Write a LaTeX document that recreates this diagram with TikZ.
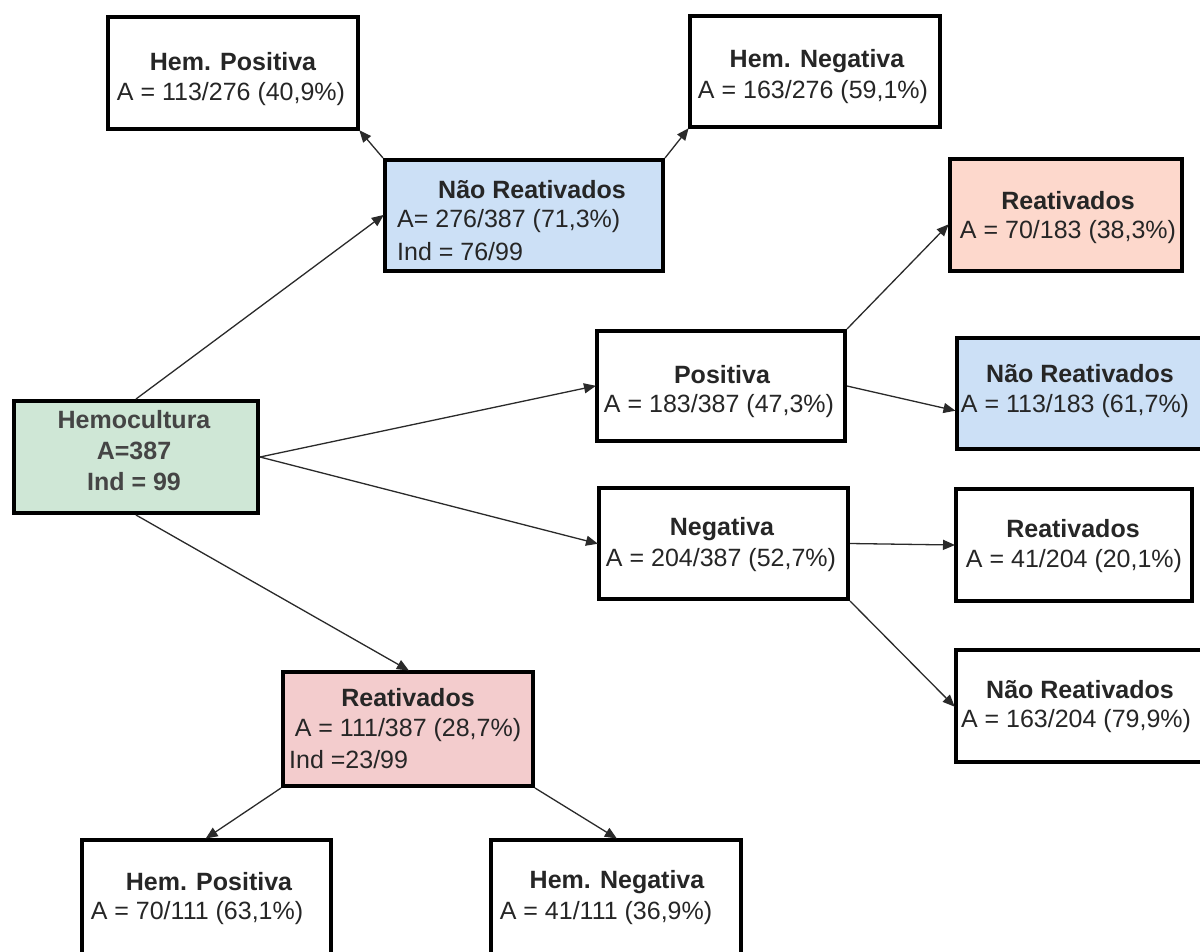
\documentclass[tikz,border=0pt]{standalone}
\usepackage{fontspec}
\setmainfont{Liberation Sans}
\usetikzlibrary{arrows.meta,calc}
\definecolor{txt}{HTML}{262626}
\definecolor{hemotxt}{HTML}{454545}
\definecolor{greenfill}{HTML}{CFE7D6}
\definecolor{bluefill}{HTML}{CCE0F6}
\definecolor{salmonfill}{HTML}{FDD8CC}
\definecolor{pinkfill}{HTML}{F3CCCD}
\definecolor{arrowcol}{HTML}{2A2A2A}
\tikzset{
  box/.style={draw=black, line width=4pt, rectangle, inner sep=0pt, fill=white},
  ttl/.style={font=\fontsize{25}{30}\selectfont\bfseries, text=txt, inner sep=0pt},
  lbl/.style={font=\fontsize{25}{30}\selectfont, text=txt, inner sep=0pt},
  conn/.style={draw=arrowcol, line width=1.3pt, -{Triangle[length=12pt,width=10pt]}, shorten >=-1pt}
}
\begin{document}
\begin{tikzpicture}[x=1pt,y=-1pt]
\useasboundingbox (0,0) rectangle (1200,951);
\clip (0,0) rectangle (1200,951);
\fill[white] (0,0) rectangle (1200,951);
% boxes
\node[box, minimum width=250pt, minimum height=112pt] (hp) at (233,73) {};
\node[box, minimum width=250pt, minimum height=111pt] (hn) at (815,71.5) {};
\node[box, fill=bluefill, minimum width=278pt, minimum height=111pt] (nr) at (524,215.5) {};
\node[box, fill=salmonfill, minimum width=232pt, minimum height=112pt] (ra) at (1066,215) {};
\node[box, minimum width=248pt, minimum height=110pt] (pos) at (721,386) {};
\node[box, fill=bluefill, minimum width=251pt, minimum height=111pt] (nrb) at (1082,393.5) {};
\node[box, fill=greenfill, minimum width=244pt, minimum height=112pt] (hemo) at (136,457) {};
\node[box, minimum width=249pt, minimum height=111pt] (neg) at (723.5,543.5) {};
\node[box, minimum width=236pt, minimum height=112pt] (rab) at (1074,545) {};
\node[box, minimum width=252pt, minimum height=112pt] (nrc) at (1082,706) {};
\node[box, fill=pinkfill, minimum width=250pt, minimum height=114pt] (reat) at (408,729) {};
\node[box, minimum width=249pt, minimum height=118pt] (hpb) at (206.5,899) {};
\node[box, minimum width=250pt, minimum height=118pt] (hnb) at (616,899) {};
% texts
\node[ttl] (hpT) at (233,62) {Hem. Positiva};
\node[lbl] (hpA) at (231,94) {A = 113/276 (40,9\%)};
\node[ttl] (hnT) at (817,61) {Hem. Negativa};
\node[lbl] (hnA) at (813,92) {A = 163/276 (59,1\%)};
\node[ttl] (nrT) at (532,190) {Não Reativados};
\node[lbl, anchor=west] (nrA) at (397,221) {A= 276/387 (71,3\%)};
\node[lbl, anchor=west] (nrI) at (397,252) {Ind = 76/99};
\node[ttl] (raT) at (1068,201) {Reativados};
\node[lbl] (raA) at (1068,232) {A = 70/183 (38,3\%)};
\node[ttl] (posT) at (722,375) {Positiva};
\node[lbl] (posA) at (719,406) {A = 183/387 (47,3\%)};
\node[ttl] (nrbT) at (1080,374) {Não Reativados};
\node[lbl] (nrbA) at (1075,406) {A = 113/183 (61,7\%)};
\node[ttl, text=hemotxt] (hemoT) at (134,420) {Hemocultura};
\node[ttl, text=hemotxt] (hemoA) at (134,451) {A=387};
\node[ttl, text=hemotxt] (hemoI) at (134,482) {Ind = 99};
\node[ttl] (negT) at (722,529) {Negativa};
\node[lbl] (negA) at (721,560) {A = 204/387 (52,7\%)};
\node[ttl] (rabT) at (1073,529) {Reativados};
\node[lbl] (rabA) at (1074,561) {A = 41/204 (20,1\%)};
\node[ttl] (nrcT) at (1080,690) {Não Reativados};
\node[lbl] (nrcA) at (1076,721) {A = 163/204 (79,9\%)};
\node[ttl] (reatT) at (408,698) {Reativados};
\node[lbl] (reatA) at (408,730) {A = 111/387 (28,7\%)};
\node[lbl, anchor=west] (reatI) at (289,760) {Ind =23/99};
\node[ttl] (hpbT) at (209,882) {Hem. Positiva};
\node[lbl] (hpbA) at (197,913) {A = 70/111 (63,1\%)};
\node[ttl] (hnbT) at (617,882) {Hem. Negativa};
\node[lbl] (hnbA) at (606,913) {A = 41/111 (36,9\%)};
% connectors
\draw[conn] (hemo.north) -- (nr.west);
\draw[conn] (hemo.east) -- (pos.west);
\draw[conn] (hemo.east) -- (neg.west);
\draw[conn] (hemo.south) -- (reat.north);
\draw[conn] (nr.north west) -- (hp.south east);
\draw[conn] (nr.north east) -- (hn.south west);
\draw[conn] (pos.north east) -- ([yshift=-10pt]ra.west);
\draw[conn] (pos.east) -- ([yshift=-17pt]nrb.west);
\draw[conn] (neg.east) -- (rab.west);
\draw[conn] (neg.south east) -- (nrc.west);
\draw[conn] (reat.south west) -- (hpb.north);
\draw[conn] (reat.south east) -- (hnb.north);
\end{tikzpicture}
\end{document}
